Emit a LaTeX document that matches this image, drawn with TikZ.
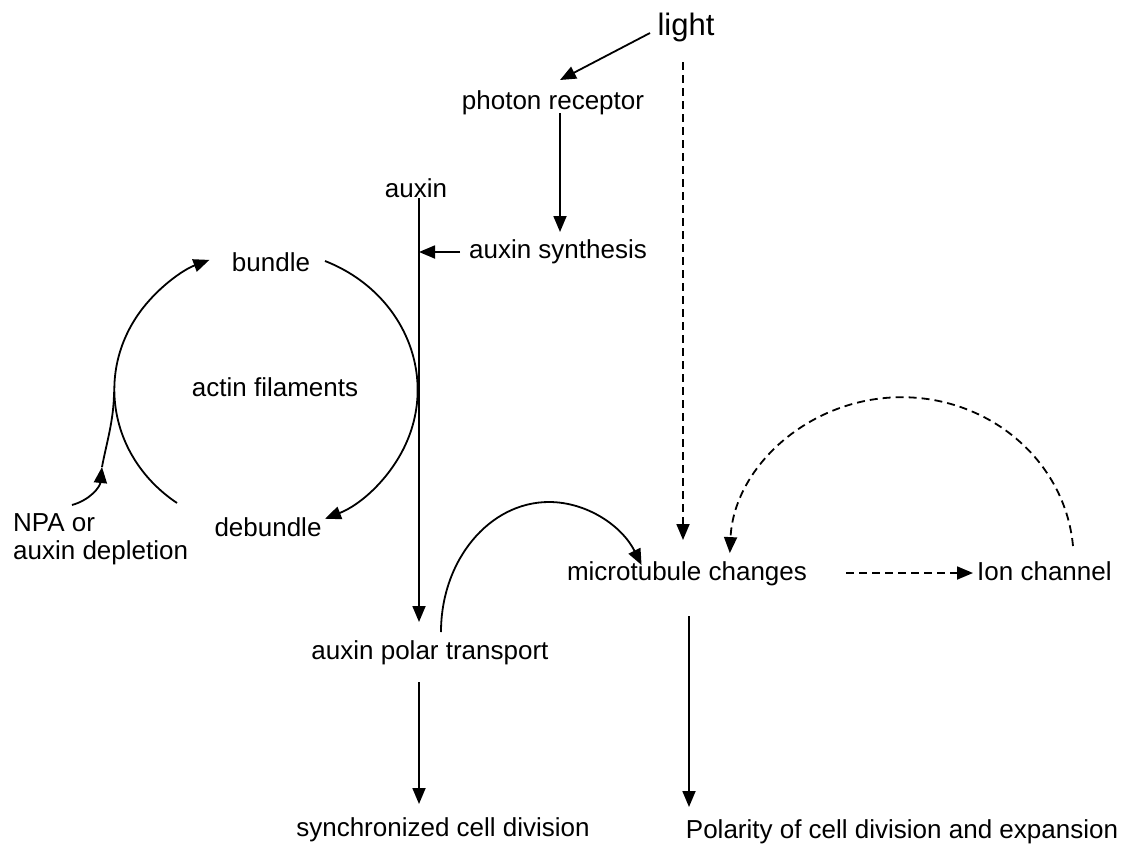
\documentclass[tikz,border=0pt]{standalone}
\usepackage{fontspec}
\setmainfont{Liberation Sans}
\usetikzlibrary{arrows.meta}
\begin{document}
\begin{tikzpicture}[x=1pt,y=-1pt,
  txt/.style={inner sep=0pt, anchor=base, font=\fontsize{26}{28}\selectfont},
  bigtxt/.style={txt, font=\fontsize{31}{34}\selectfont},
  plain/.style={line width=1.8pt},
  link/.style={plain, -{Triangle[length=16pt,width=13pt]}},
  dashlink/.style={link, dash pattern=on 8pt off 5pt},
]
\fill[white] (0,0) rectangle (1128,846);
\useasboundingbox (0,0) rectangle (1128,846);

% labels
\node[bigtxt] (light) at (686,35) {light};
\node[txt] (photon) at (553,109) {photon receptor};
\node[txt] (auxin) at (416,197) {auxin};
\node[txt] (synth) at (558,258) {auxin synthesis};
\node[txt] (bundle) at (271,271) {bundle};
\node[txt] (actin) at (275,396) {actin filaments};
\node[txt] (debundle) at (268,536) {debundle};
\node[txt, anchor=north west, align=left] (npa) at (13,513) {NPA or\\auxin depletion};
\node[txt] (micro) at (687,580) {microtubule changes};
\node[txt, anchor=base west] (ion) at (977,580) {Ion channel};
\node[txt] (polar) at (430,659) {auxin polar transport};
\node[txt] (sync) at (443,836) {synchronized cell division};
\node[txt] (polarity) at (902,838) {Polarity of cell division and expansion};

% connector end points
\coordinate (lightOut) at (650,33);
\coordinate (photonIn) at (560,80);
\coordinate (lightDown) at (683,62);
\coordinate (microInL) at (683,540);
\coordinate (photonOut) at (560,113);
\coordinate (synthIn) at (560,232);
\coordinate (synthOut) at (460,252);
\coordinate (auxinAxis) at (419,252);
\coordinate (auxinOut) at (419,198);
\coordinate (polarIn) at (419,622);
\coordinate (polarOut) at (419,682);
\coordinate (syncIn) at (419,804);
\coordinate (microOut) at (689,616);
\coordinate (polarityIn) at (689,807);
\coordinate (microRight) at (846,573);
\coordinate (ionIn) at (973,573);
\coordinate (bundleOut) at (325,261);
\coordinate (debundleOut) at (177,503);
\coordinate (polarUp) at (441,632);
\coordinate (ionUp) at (1073,546);
\coordinate (npaOut) at (72,505);
\coordinate (npaTip) at (102,467);
\coordinate (cycleLeft) at (114,392);

% light and its effects
\draw[link] (lightOut) -- (photonIn);
\draw[dashlink] (lightDown) -- (microInL);
\draw[link] (photonOut) -- (synthIn);
\draw[link] (synthOut) -- (auxinAxis);

% auxin axis
\draw[link] (auxinOut) -- (polarIn);
\draw[link] (polarOut) -- (syncIn);

% actin filament cycle
\draw[link] (bundleOut) arc[start angle=-67, end angle=67, x radius=152, y radius=140];
\draw[link] (debundleOut) arc[start angle=126, end angle=248, x radius=152, y radius=140];
\draw[link] (npaOut) .. controls (90,500) and (100,487) .. (npaTip);
\draw[plain] (npaTip) .. controls (106,445) and (114,420) .. (cycleLeft);

% microtubules
\draw[link] (polarUp) arc[start angle=180, end angle=329, x radius=108, y radius=130];
\draw[link] (microOut) -- (polarityIn);
\draw[dashlink] (microRight) -- (ionIn);
\draw[dashlink] (ionUp) arc[start angle=-5, end angle=-177.5, x radius=172, y radius=163];
\end{tikzpicture}
\end{document}
